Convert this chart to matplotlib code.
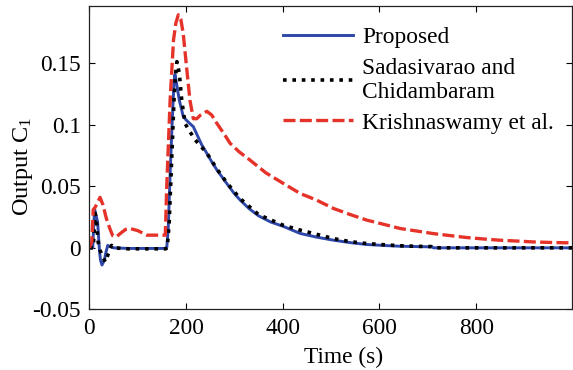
import matplotlib
matplotlib.use('Agg')
import matplotlib.pyplot as plt
from matplotlib.ticker import FormatStrFormatter

# Proposed
t_prop = [0, 7, 9, 11, 14, 17, 21, 23, 26, 31, 34, 38, 43, 50, 80, 120, 155, 160, 163, 167, 171, 175, 177,
          181, 186, 191, 194, 200, 208, 215, 225, 232, 243, 253, 264, 284, 300, 312, 330, 350, 375, 400,
          436, 470, 505, 540, 574, 610, 642, 680, 708, 712, 800, 900, 1000]
y_prop = [0, 0, 0.02, 0.031, 0.026, 0.021, -0.003, -0.010, -0.014, -0.010, -0.004, 0.002, 0.001, 0.0,
          -0.0005, -0.0005, -0.0005, 0.0, 0.015, 0.06, 0.10, 0.135, 0.141,
          0.132, 0.120, 0.112, 0.107, 0.104, 0.101, 0.0985, 0.090, 0.084, 0.0768, 0.070, 0.0632, 0.0524,
          0.044, 0.0388, 0.032, 0.026, 0.021, 0.0176,
          0.0117, 0.0087, 0.0062, 0.0042, 0.0027, 0.0019, 0.0013, 0.001, 0.0008, 0.0, 0.0, 0.0, 0.0]

# Sadasivarao and Chidambaram
t_sada = [0, 8, 10, 12, 15, 18, 22, 28, 33, 38, 41, 46, 50, 80, 120, 158, 161, 165, 170, 175, 178, 181,
          186, 191, 198, 208, 219, 243, 264, 284, 312, 350, 400, 436, 470, 505, 540, 574, 610, 642, 680,
          708, 712, 800, 1000]
y_sada = [0, 0, 0.015, 0.028, 0.02, 0.005, -0.002, -0.0074, -0.0115, -0.006, -0.003, 0.002, 0.0,
          -0.0008, -0.0008, -0.0008, 0.0, 0.02, 0.07, 0.12, 0.14, 0.1514,
          0.142, 0.120, 0.101, 0.0944, 0.0877, 0.077, 0.064, 0.053, 0.040, 0.027, 0.0185, 0.0144, 0.011,
          0.0075, 0.005, 0.0035, 0.0025, 0.0017, 0.0012, 0.001, 0.0, 0.0, 0.0]

# Krishnaswamy et al.
t_kris = [0, 5, 8, 12, 17, 22, 28, 35, 42, 48, 56, 65, 75, 84, 100, 119, 140, 157, 160, 163, 167, 174,
          179, 184, 189, 194, 201, 208, 215, 222, 230, 243, 253, 264, 278, 291, 310, 332, 365, 401, 436,
          470, 505, 540, 574, 610, 643, 680, 711, 745, 780, 815, 849, 885, 918, 960, 1000]
y_kris = [0, 0.005, 0.031, 0.033, 0.037, 0.041, 0.035, 0.024, 0.016, 0.010, 0.009, 0.012, 0.015, 0.0157,
          0.014, 0.0103, 0.0103, 0.0103, 0.05, 0.08, 0.12, 0.169,
          0.183, 0.1895, 0.186, 0.1746, 0.147, 0.120, 0.105, 0.105, 0.108, 0.111, 0.108, 0.101, 0.093,
          0.085, 0.078, 0.0714, 0.061, 0.0524, 0.0442,
          0.0388, 0.032, 0.027, 0.0225, 0.019, 0.0157, 0.0135, 0.0116, 0.010, 0.0084, 0.0072, 0.0062,
          0.0055, 0.0048, 0.0043, 0.004]

x_ticks = [0, 200, 400, 600, 800]
y_ticks = [-0.05, 0, 0.05, 0.1, 0.15]

plt.rcParams['font.family'] = ['Liberation Serif', 'DejaVu Serif']
plt.rcParams['mathtext.fontset'] = 'custom'
plt.rcParams['mathtext.rm'] = 'Liberation Serif'
plt.rcParams['mathtext.it'] = 'Liberation Serif:italic'
plt.rcParams['axes.unicode_minus'] = False
fs = 16.8

fig = plt.figure(figsize=(5.73, 3.70), dpi=100)
ax = fig.add_axes([0.156, 0.164, 0.842, 0.821])

ax.plot(t_prop, y_prop, color='#2e47a8', lw=2.1, label='Proposed')
ax.plot(t_sada, y_sada, color='black', lw=2.6, linestyle=(0, (1, 1.6)), label='Sadasivarao and\nChidambaram')
ax.plot(t_kris, y_kris, color='#e6332a', lw=2.4, linestyle=(0, (3.6, 1.3)), label='Krishnaswamy et al.')

ax.set_xlim(0, 998)
ax.set_ylim(-0.05, 0.197)
ax.set_xticks(x_ticks)
ax.set_yticks(y_ticks)
ax.yaxis.set_major_formatter(FormatStrFormatter('%g'))
ax.tick_params(direction='in', top=True, right=True, length=4, width=0.8, labelsize=fs, pad=6)
for s in ax.spines.values():
    s.set_linewidth(0.9)
    s.set_color('#222222')

ax.set_xlabel('Time (s)', fontsize=fs)
ax.xaxis.set_label_coords(0.526, -0.125)
ax.set_ylabel('Output C$_{\\mathrm{1}}$', fontsize=17.5)
ax.yaxis.set_label_coords(-0.112, 0.472)

ax.legend(frameon=False, loc='upper left', bbox_to_anchor=(0.401, 0.929), fontsize=fs,
          handlelength=3.0, handletextpad=0.4, labelspacing=0.4, borderpad=0, borderaxespad=0)

fig.savefig('out.png', dpi=100)
